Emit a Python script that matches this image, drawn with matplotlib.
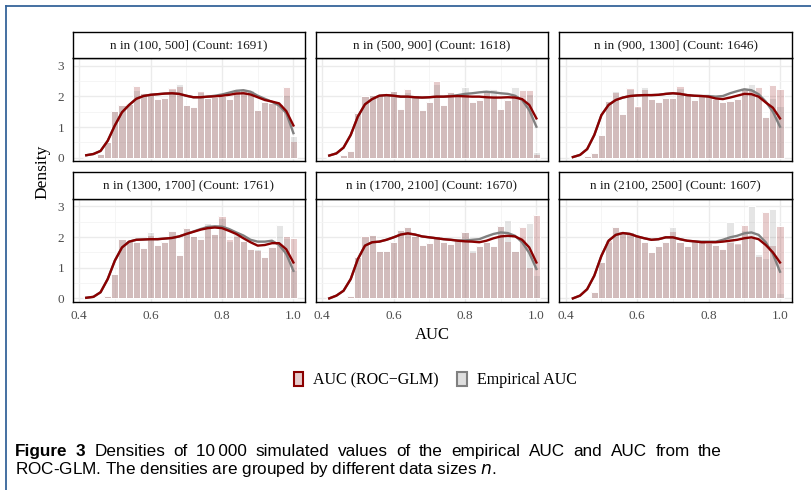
import numpy as np
import matplotlib.pyplot as plt
from matplotlib.patches import Patch
from matplotlib.lines import Line2D
from matplotlib.ticker import MultipleLocator

###--- Data ---###
auc_bins = np.round(np.arange(0.42, 1.001, 0.02), 2)   # histogram bin centres (and curve grid)

panel_titles = ['n in (100, 500] (Count: 1691)', 'n in (500, 900] (Count: 1618)',
                'n in (900, 1300] (Count: 1646)', 'n in (1300, 1700] (Count: 1761)',
                'n in (1700, 2100] (Count: 1670)', 'n in (2100, 2500] (Count: 1607)']

# histogram heights: ROC-GLM
hist_glm1 = [0.0, 0.03, 0.12, 0.5, 1.52, 1.72, 1.74, 2.35, 2.1, 2.05, 1.9, 1.95, 2.28, 2.3, 1.72,
             1.65, 2.18, 1.95, 1.97, 2.0, 1.88, 2.2, 2.18, 2.15, 1.55, 1.82, 1.78, 1.75, 2.32, 0.5]
hist_glm2 = [0.0, 0.03, 0.1, 0.22, 1.45, 2.0, 2.05, 2.05, 2.05, 2.18, 1.6, 2.25, 2.05, 1.55, 1.8,
             2.5, 1.72, 2.15, 2.05, 2.05, 1.83, 1.88, 2.1, 1.95, 1.6, 1.88, 2.0, 2.2, 2.2, 0.1]
hist_glm3 = [0.0, 0.02, 0.05, 0.14, 0.74, 1.85, 2.12, 1.41, 2.28, 1.7, 2.2, 1.91, 1.8, 1.96, 1.96,
             2.34, 2.1, 1.88, 2.04, 2.04, 1.91, 1.8, 1.85, 1.91, 2.26, 2.2, 2.32, 1.34, 2.37, 2.24]
hist_glm4 = [0.0, 0.0, 0.02, 0.09, 0.8, 1.93, 1.9, 1.83, 1.63, 2.02, 1.75, 1.85, 2.2, 1.4, 2.28,
             2.02, 1.95, 2.37, 2.1, 2.67, 1.95, 2.0, 1.88, 1.6, 1.55, 1.35, 1.66, 1.7, 2.05, 1.96]
hist_glm5 = [0.0, 0.0, 0.02, 0.09, 1.34, 2.02, 2.08, 1.55, 1.55, 1.85, 2.24, 2.32, 2.02, 1.74, 1.8,
             2.05, 1.83, 1.77, 1.91, 2.17, 1.48, 1.72, 1.85, 1.72, 2.37, 1.85, 1.55, 2.32, 1.0, 2.72]
hist_glm6 = [0.0, 0.0, 0.02, 0.22, 1.2, 1.9, 2.32, 2.17, 2.17, 2.02, 1.85, 1.52, 1.72, 1.85, 2.17,
             1.85, 1.7, 1.88, 1.85, 1.8, 1.74, 1.6, 1.8, 1.82, 2.39, 1.95, 1.35, 2.83, 1.7, 2.37]

# histogram heights: empirical AUC
hist_emp1 = [0.0, 0.03, 0.12, 0.5, 1.5, 1.7, 1.74, 2.18, 2.1, 2.05, 1.9, 1.95, 2.2, 2.4, 1.7,
             1.65, 2.1, 1.95, 1.97, 2.02, 1.9, 2.25, 2.22, 2.2, 1.55, 1.8, 1.78, 1.75, 2.02, 0.72]
hist_emp2 = [0.0, 0.03, 0.1, 0.22, 1.45, 2.0, 2.05, 2.05, 2.05, 2.18, 1.6, 2.1, 2.05, 1.55, 1.8,
             2.37, 1.72, 2.15, 2.05, 2.3, 1.83, 1.88, 2.2, 2.25, 1.6, 1.88, 2.3, 1.9, 2.05, 0.2]
hist_emp3 = [0.0, 0.02, 0.05, 0.14, 0.74, 1.8, 2.17, 1.41, 2.2, 1.63, 2.32, 1.91, 1.8, 1.96, 1.96,
             2.25, 2.1, 1.88, 2.04, 2.04, 1.91, 1.8, 1.85, 1.91, 2.26, 2.39, 2.0, 1.34, 1.9, 1.66]
hist_emp4 = [0.0, 0.0, 0.02, 0.09, 0.8, 1.9, 1.9, 1.83, 1.63, 2.15, 1.75, 1.85, 2.2, 1.4, 2.28,
             2.02, 1.95, 2.45, 2.1, 2.6, 1.83, 2.1, 1.88, 1.6, 1.62, 1.35, 1.66, 2.4, 1.95, 0.9]
hist_emp5 = [0.0, 0.0, 0.02, 0.09, 1.34, 1.96, 2.08, 1.55, 1.55, 1.85, 2.24, 2.32, 2.02, 1.74, 1.8,
             2.05, 1.83, 1.77, 1.91, 2.17, 1.58, 1.72, 1.85, 1.72, 2.37, 2.57, 1.55, 1.9, 2.46, 0.74]
hist_emp6 = [0.0, 0.0, 0.02, 0.22, 1.2, 1.8, 2.32, 2.17, 2.17, 2.02, 1.85, 1.52, 1.72, 1.85, 2.32,
             1.85, 1.7, 1.88, 1.85, 1.8, 1.74, 1.6, 2.5, 1.74, 2.2, 3.02, 1.45, 1.3, 2.93, 0.14]

# density curves: ROC-GLM
dens_glm1 = [0.08, 0.12, 0.22, 0.55, 1.05, 1.48, 1.72, 1.92, 2.01, 2.05, 2.07, 2.09, 2.1, 2.08, 2.02,
             1.97, 1.97, 1.99, 2.0, 2.02, 2.05, 2.09, 2.1, 2.06, 1.97, 1.88, 1.83, 1.77, 1.52, 1.05]
dens_glm2 = [0.07, 0.14, 0.33, 0.74, 1.34, 1.74, 1.91, 2.02, 2.04, 2.02, 1.99, 1.99, 1.97, 1.96, 1.97,
             1.99, 1.99, 2.0, 2.01, 2.0, 1.99, 1.99, 1.97, 1.96, 1.96, 1.97, 1.96, 1.91, 1.72, 1.28]
dens_glm3 = [0.02, 0.09, 0.28, 0.74, 1.39, 1.72, 1.88, 1.96, 2.01, 2.03, 2.04, 2.04, 2.05, 2.08, 2.1,
             2.08, 2.04, 2.02, 2.01, 1.99, 1.93, 1.91, 1.96, 2.02, 2.08, 2.07, 1.99, 1.8, 1.63, 1.28]
dens_glm4 = [0.02, 0.05, 0.2, 0.63, 1.23, 1.66, 1.85, 1.91, 1.92, 1.93, 1.93, 1.95, 1.97, 2.02, 2.1,
             2.17, 2.24, 2.29, 2.31, 2.29, 2.2, 2.1, 1.96, 1.83, 1.72, 1.74, 1.8, 1.8, 1.6, 1.17]
dens_glm5 = [0.0, 0.09, 0.25, 0.63, 1.28, 1.72, 1.83, 1.85, 1.91, 1.99, 2.08, 2.12, 2.08, 2.02, 1.99,
             1.96, 1.93, 1.91, 1.88, 1.86, 1.85, 1.83, 1.88, 1.96, 2.02, 2.04, 2.02, 1.91, 1.66, 1.17]
dens_glm6 = [0.0, 0.09, 0.3, 0.74, 1.39, 1.88, 2.07, 2.13, 2.1, 2.02, 1.96, 1.91, 1.93, 1.99, 1.99,
             1.93, 1.88, 1.86, 1.83, 1.83, 1.83, 1.85, 1.88, 1.91, 1.96, 1.99, 1.93, 1.74, 1.5, 1.17]

# density curves: empirical AUC
dens_emp1 = [0.08, 0.12, 0.22, 0.55, 1.05, 1.48, 1.72, 1.92, 2.01, 2.05, 2.07, 2.09, 2.1, 2.08, 2.02,
             1.97, 1.97, 1.99, 2.02, 2.06, 2.12, 2.18, 2.2, 2.15, 2.02, 1.92, 1.82, 1.7, 1.45, 0.8]
dens_emp2 = [0.07, 0.14, 0.33, 0.74, 1.34, 1.74, 1.91, 2.02, 2.04, 2.02, 1.99, 1.99, 1.97, 1.96, 1.97,
             1.99, 1.99, 2.01, 2.04, 2.08, 2.1, 2.13, 2.15, 2.13, 2.1, 2.08, 2.02, 1.88, 1.55, 1.01]
dens_emp3 = [0.02, 0.09, 0.28, 0.74, 1.39, 1.72, 1.88, 1.96, 2.01, 2.03, 2.04, 2.04, 2.05, 2.08, 2.1,
             2.08, 2.04, 2.02, 2.01, 2.01, 1.99, 2.01, 2.1, 2.17, 2.23, 2.2, 2.07, 1.83, 1.5, 1.01]
dens_emp4 = [0.02, 0.05, 0.2, 0.63, 1.23, 1.66, 1.85, 1.91, 1.92, 1.93, 1.93, 1.95, 1.97, 2.02, 2.1,
             2.18, 2.26, 2.33, 2.35, 2.34, 2.26, 2.15, 2.05, 1.91, 1.85, 1.85, 1.88, 1.74, 1.45, 0.9]
dens_emp5 = [0.0, 0.09, 0.25, 0.63, 1.28, 1.72, 1.83, 1.85, 1.91, 1.99, 2.08, 2.12, 2.08, 2.02, 1.99,
             1.96, 1.93, 1.91, 1.89, 1.89, 1.91, 1.93, 2.02, 2.1, 2.15, 2.13, 2.04, 1.83, 1.48, 0.96]
dens_emp6 = [0.0, 0.09, 0.3, 0.74, 1.39, 1.88, 2.07, 2.13, 2.1, 2.02, 1.96, 1.91, 1.93, 1.99, 1.99,
             1.93, 1.88, 1.86, 1.85, 1.85, 1.85, 1.91, 1.99, 2.04, 2.12, 2.15, 2.07, 1.83, 1.45, 0.87]

hist_glm = [hist_glm1, hist_glm2, hist_glm3, hist_glm4, hist_glm5, hist_glm6]
hist_emp = [hist_emp1, hist_emp2, hist_emp3, hist_emp4, hist_emp5, hist_emp6]
dens_glm = [dens_glm1, dens_glm2, dens_glm3, dens_glm4, dens_glm5, dens_glm6]
dens_emp = [dens_emp1, dens_emp2, dens_emp3, dens_emp4, dens_emp5, dens_emp6]

caption_line1 = 'Densities of 10\u2009000 simulated values of the empirical AUC and AUC from the'
caption_line2 = 'ROC-GLM. The densities are grouped by different data sizes $n$.'

###--- Style ---###
plt.rcParams['font.family'] = ['Liberation Serif', 'DejaVu Serif']
red = '#8B0000'
gray = '#808080'
W, H = 811., 490.

def px2fig(x, y):
    return x/W, 1.-y/H

fig = plt.figure(figsize=(8.11, 4.90), dpi=100)

lefts = [72.7, 315.7, 559.3]
tops = [58.3, 199.0]
pw, ph, sh = 232.5, 102.7, 26.6

for i in range(6):
    ix, iy = lefts[i % 3], tops[i // 3]
    l, b = px2fig(ix, iy+ph)
    ax = fig.add_axes([l, b, pw/W, ph/H])

    ax.bar(auc_bins, hist_glm[i], width=0.02, color=red, alpha=0.2, edgecolor='none', zorder=2)
    ax.bar(auc_bins, hist_emp[i], width=0.02, color=gray, alpha=0.2, edgecolor='none', zorder=2)
    # white gaps between bars
    ax.bar(auc_bins, np.maximum(hist_glm[i], hist_emp[i]), width=0.02, fill=False,
           edgecolor='white', linewidth=0.7, zorder=3)
    ax.plot(auc_bins, dens_emp[i], color=gray, lw=1.7, zorder=4)
    ax.plot(auc_bins, dens_glm[i], color=red, lw=1.7, zorder=5)

    ax.set_xlim(0.382, 1.033)
    ax.set_ylim(-0.108, 3.24)
    ax.xaxis.set_major_locator(MultipleLocator(0.2))
    ax.xaxis.set_minor_locator(MultipleLocator(0.1))
    ax.yaxis.set_major_locator(MultipleLocator(1))
    ax.yaxis.set_minor_locator(MultipleLocator(0.5))
    ax.grid(which='major', color='#EBEBEB', lw=1.0, zorder=0)
    ax.grid(which='minor', color='#F4F4F4', lw=0.6, zorder=0)
    ax.set_axisbelow(True)
    ax.tick_params(which='both', length=0, labelsize=9.5, labelcolor='#4D4D4D', pad=6)
    ax.xaxis.set_major_formatter('{x:.1f}')
    for s in ax.spines.values():
        s.set_color('black'); s.set_linewidth(1.0)
    if i % 3 != 0:
        ax.set_yticklabels([])
    if i < 3:
        ax.set_xticklabels([])

    # strip
    sl, sb = px2fig(ix, iy)
    sax = fig.add_axes([sl, sb, pw/W, sh/H])
    sax.set_xticks([]); sax.set_yticks([])
    for s in sax.spines.values():
        s.set_color('black'); s.set_linewidth(1.0)
    sax.text(0.5, 0.5, panel_titles[i], ha='center', va='center', fontsize=9.5,
             transform=sax.transAxes, color='#1A1A1A')

##-- Axis titles --##
fig.text(*px2fig(432, 335), 'AUC', ha='center', va='center', fontsize=12)
fig.text(*px2fig(42, 172), 'Density', ha='center', va='center', fontsize=12.5, rotation=90)

##-- Legend --##
handles = [Patch(facecolor=(0.545, 0, 0, 0.2), edgecolor=red, linewidth=1.5),
           Patch(facecolor=(0.5, 0.5, 0.5, 0.25), edgecolor=gray, linewidth=1.5)]
fig.legend(handles, ['AUC (ROC\u2212GLM)', 'Empirical AUC'], loc='center',
           bbox_to_anchor=px2fig(435, 380), ncol=2, frameon=False, fontsize=11.5,
           handlelength=0.6, handleheight=1.0, handletextpad=0.6, columnspacing=1.2)

##-- Caption (first line justified to the text width) --##
cap_font = ['Liberation Sans', 'DejaVu Sans']
cap_size = 12.3
cap_left, cap_right = 15., 722.
y1 = 1 - 451/H
r = fig.canvas.get_renderer()
words = [('Figure', 'bold'), ('3', 'bold')] + [(w, 'normal') for w in caption_line1.split(' ')]
wtexts = [fig.text(0, y1, w, family=cap_font, fontsize=cap_size, fontweight=wt, va='center')
          for w, wt in words]
widths = [t.get_window_extent(r).width for t in wtexts]
gap = (cap_right - cap_left - sum(widths)) / (len(wtexts) - 1)
xw = cap_left
for t, wd in zip(wtexts, widths):
    t.set_x(xw / W)
    xw += wd + gap
fig.text(*px2fig(cap_left, 469), caption_line2, family=cap_font, fontsize=cap_size, va='center')

##-- Frame lines --##
bc = '#36649A'
fig.add_artist(Line2D([6/W, 1.], [1-6/H, 1-6/H], color=bc, lw=1.3))
fig.add_artist(Line2D([6/W, 6/W], [0., 1-6/H], color=bc, lw=1.3))

fig.savefig('out.png', dpi=100)
